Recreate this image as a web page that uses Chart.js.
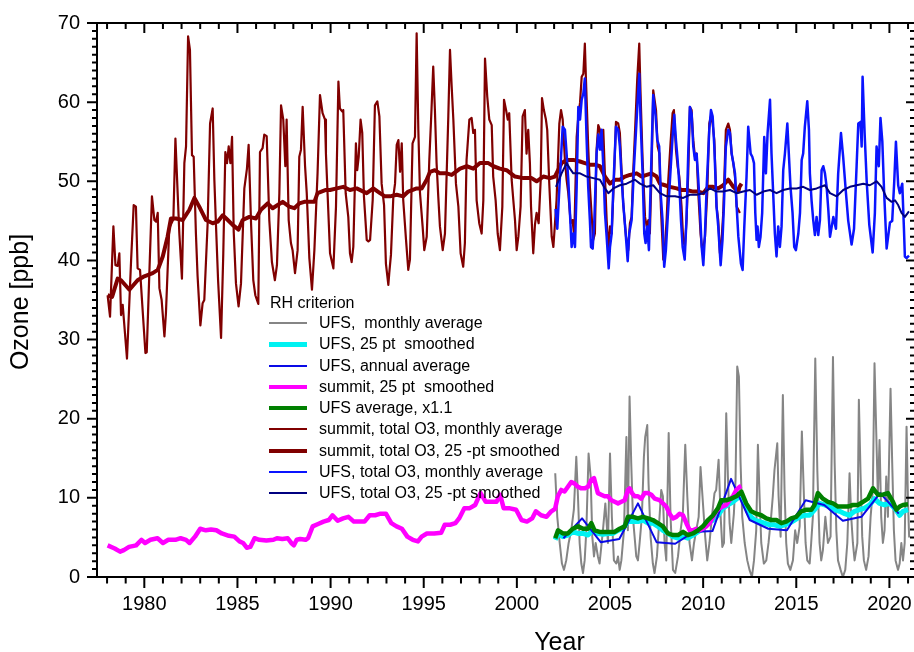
<!DOCTYPE html>
<html><head><meta charset="utf-8">
<script src="https://cdn.jsdelivr.net/npm/chart.js@4.4.1/dist/chart.umd.min.js"></script>
<style>
html,body{margin:0;padding:0;background:#fff;}
#wrap{position:relative;width:914px;height:652px;overflow:hidden;}
#legend{position:absolute;left:0;top:0;width:914px;height:652px;pointer-events:none;font-family:"Liberation Sans",Arial,sans-serif;font-size:16px;color:#000;}
.lg-text{position:absolute;height:20px;line-height:20px;white-space:pre;}
.lg-line{position:absolute;width:38px;}
</style></head><body>
<div id="wrap"><canvas id="c" width="914" height="652"></canvas><div id="legend"></div></div>
<script>
// ---------- DATA ----------
const xTitle = 'Year';
const yTitle = 'Ozone [ppb]';
const legendTitle = 'RH criterion';
const xTickYears = [1980,1985,1990,1995,2000,2005,2010,2015,2020];
const yTickValues = [0,10,20,30,40,50,60,70];
const seriesLabels = [
  'UFS,  monthly average',
  'UFS, 25 pt  smoothed',
  'UFS, annual average',
  'summit, 25 pt  smoothed',
  'UFS average, x1.1',
  'summit, total O3, monthly average',
  'summit, total O3, 25 -pt smoothed',
  'UFS, total O3, monthly average',
  'UFS, total O3, 25 -pt smoothed'
];

const ufsMonthly = [[2002.06,13.1],[2002.17,7.6],[2002.30,4.3],[2002.42,1.7],[2002.53,0.9],[2002.65,2.1],[2002.78,4.3],[2002.92,5.9],[2003.06,8.5],[2003.19,15.2],[2003.28,10.2],[2003.37,4.3],[2003.46,1.7],[2003.55,0.5],[2003.64,2.1],[2003.73,5.9],[2003.85,15.6],[2003.96,12.7],[2004.05,5.1],[2004.14,2.6],[2004.23,4.3],[2004.35,2.6],[2004.44,1.7],[2004.53,3.8],[2004.62,5.9],[2004.75,9.3],[2004.89,4.3],[2005.00,15.6],[2005.10,7.6],[2005.21,2.1],[2005.34,1.7],[2005.43,2.6],[2005.52,0.9],[2005.61,2.1],[2005.75,5.9],[2005.88,17.7],[2005.96,5.9],[2006.05,22.8],[2006.14,14.4],[2006.23,7.6],[2006.32,5.1],[2006.41,2.6],[2006.50,2.1],[2006.59,4.3],[2006.71,7.6],[2006.82,15.2],[2006.89,17.7],[2007.00,19.2],[2007.07,11.8],[2007.18,5.1],[2007.30,1.7],[2007.39,0.5],[2007.52,2.6],[2007.66,7.6],[2007.75,11.0],[2007.84,10.2],[2007.93,4.3],[2008.02,2.1],[2008.15,18.2],[2008.25,7.6],[2008.38,0.9],[2008.50,0.5],[2008.65,2.6],[2008.79,5.9],[2008.91,8.0],[2009.04,16.7],[2009.15,10.2],[2009.27,4.3],[2009.40,2.1],[2009.51,4.3],[2009.63,5.9],[2009.76,7.6],[2009.86,13.9],[2009.99,9.3],[2010.11,5.1],[2010.22,2.1],[2010.34,4.3],[2010.47,7.6],[2010.61,10.6],[2010.70,11.0],[2010.83,14.8],[2010.94,7.6],[2011.03,3.8],[2011.12,4.3],[2011.24,20.7],[2011.33,12.7],[2011.42,6.8],[2011.51,4.3],[2011.65,8.0],[2011.74,12.3],[2011.83,26.6],[2011.92,25.3],[2012.01,14.4],[2012.10,7.6],[2012.23,4.3],[2012.37,2.1],[2012.49,0.9],[2012.62,0.0],[2012.73,2.1],[2012.85,5.9],[2012.94,16.7],[2013.03,10.2],[2013.12,4.3],[2013.26,1.7],[2013.39,2.1],[2013.51,4.3],[2013.65,7.6],[2013.74,10.2],[2013.83,13.5],[2013.98,16.9],[2014.05,10.2],[2014.16,5.1],[2014.28,23.0],[2014.37,11.0],[2014.46,4.3],[2014.55,1.7],[2014.68,0.9],[2014.82,2.1],[2014.94,5.9],[2015.05,4.3],[2015.18,6.4],[2015.30,18.4],[2015.41,10.2],[2015.50,4.3],[2015.59,2.1],[2015.72,1.7],[2015.80,4.3],[2015.89,7.6],[2016.02,27.6],[2016.13,13.5],[2016.25,4.3],[2016.34,2.1],[2016.43,3.4],[2016.56,7.6],[2016.70,4.3],[2016.84,5.1],[2016.97,27.8],[2017.06,14.4],[2017.15,5.9],[2017.24,2.1],[2017.38,0.9],[2017.50,0.0],[2017.63,0.9],[2017.74,4.3],[2017.86,13.1],[2017.95,7.6],[2018.04,4.3],[2018.13,2.1],[2018.28,4.3],[2018.36,22.4],[2018.45,13.1],[2018.54,5.1],[2018.63,2.1],[2018.75,0.9],[2018.88,2.6],[2018.99,7.6],[2019.11,11.0],[2019.20,27.0],[2019.29,18.6],[2019.38,10.2],[2019.47,17.3],[2019.56,7.6],[2019.65,4.3],[2019.74,5.9],[2019.83,12.7],[2019.92,7.6],[2020.06,23.8],[2020.15,14.4],[2020.24,5.9],[2020.33,2.1],[2020.46,0.9],[2020.55,1.7],[2020.64,4.3],[2020.73,2.1],[2020.82,4.3],[2020.92,19.0],[2021.00,9.3],[2021.06,5.0]];

const ufsSmoothed = [[2002.06,4.7],[2002.21,5.5],[2002.47,5.1],[2002.74,5.3],[2003.01,5.7],[2003.28,5.5],[2003.55,5.5],[2003.82,5.3],[2004.08,5.9],[2004.35,5.5],[2004.62,5.4],[2004.89,5.5],[2005.16,5.5],[2005.43,5.9],[2005.69,6.1],[2005.96,7.0],[2006.23,7.0],[2006.50,7.0],[2006.77,7.2],[2007.04,6.8],[2007.30,6.8],[2007.57,6.4],[2007.84,5.9],[2008.11,5.5],[2008.38,5.1],[2008.65,4.9],[2008.92,5.1],[2009.18,4.9],[2009.45,5.3],[2009.72,5.7],[2009.99,6.1],[2010.26,6.8],[2010.53,7.2],[2010.80,7.8],[2011.06,8.7],[2011.33,9.1],[2011.60,9.5],[2011.87,10.0],[2012.05,10.2],[2012.23,9.3],[2012.49,7.8],[2012.76,7.2],[2013.03,7.0],[2013.30,6.8],[2013.57,6.6],[2013.84,6.6],[2014.10,6.4],[2014.37,6.6],[2014.64,6.8],[2014.91,7.2],[2015.18,7.6],[2015.45,7.8],[2015.71,7.8],[2015.98,8.5],[2016.25,9.3],[2016.52,9.1],[2016.79,8.9],[2017.06,8.5],[2017.33,8.3],[2017.60,8.0],[2017.86,7.8],[2018.13,8.3],[2018.40,8.5],[2018.67,8.7],[2018.94,9.1],[2019.20,9.9],[2019.47,9.3],[2019.74,9.1],[2020.01,9.3],[2020.28,8.7],[2020.55,7.8],[2020.73,8.3],[2021.00,8.5]];

const ufsAnnual = [[2002.5,4.9],[2003.5,7.4],[2004.5,4.4],[2005.5,4.8],[2006.5,9.3],[2007.5,4.4],[2008.5,4.2],[2009.5,5.7],[2010.5,5.8],[2011.5,12.4],[2012.5,7.2],[2013.5,6.1],[2014.5,5.9],[2015.5,9.7],[2016.5,9.1],[2017.5,7.1],[2018.5,7.6],[2019.5,10.6],[2020.5,8.0]];

const summitSmoothed = [[1978.03,4.0],[1978.41,3.6],[1978.70,3.2],[1978.90,3.4],[1979.18,3.8],[1979.56,4.0],[1979.85,4.7],[1980.04,4.3],[1980.33,4.7],[1980.71,4.9],[1981.00,4.3],[1981.29,4.7],[1981.67,4.7],[1981.95,4.9],[1982.24,4.7],[1982.43,4.3],[1982.72,5.1],[1983.00,6.1],[1983.30,5.9],[1983.58,6.0],[1983.87,5.9],[1984.16,5.5],[1984.54,5.2],[1984.83,5.1],[1985.11,4.5],[1985.30,4.3],[1985.50,3.7],[1985.69,3.8],[1985.92,4.9],[1986.17,4.7],[1986.55,4.6],[1986.93,4.7],[1987.12,4.9],[1987.41,4.8],[1987.70,4.9],[1987.89,4.3],[1988.03,4.0],[1988.18,4.7],[1988.37,4.8],[1988.66,4.7],[1988.79,4.9],[1989.04,6.4],[1989.33,6.7],[1989.62,7.0],[1989.90,7.2],[1990.10,7.8],[1990.38,7.1],[1990.67,7.4],[1990.96,7.6],[1991.25,7.0],[1991.53,7.0],[1991.82,7.0],[1992.10,7.8],[1992.39,7.8],[1992.68,8.0],[1992.97,8.0],[1993.26,6.8],[1993.54,6.4],[1993.83,6.1],[1994.12,5.1],[1994.41,4.7],[1994.69,4.5],[1994.89,5.1],[1995.17,5.5],[1995.56,5.5],[1995.94,5.6],[1996.13,6.6],[1996.42,6.6],[1996.70,6.8],[1996.90,7.4],[1997.18,8.7],[1997.47,8.7],[1997.76,9.1],[1998.05,10.6],[1998.33,9.5],[1998.62,9.5],[1998.91,9.5],[1999.10,10.4],[1999.29,8.7],[1999.58,8.7],[1999.96,8.5],[2000.25,7.2],[2000.54,7.0],[2000.82,7.4],[2001.02,8.3],[2001.30,7.8],[2001.59,7.6],[2001.85,8.3],[2002.05,8.6],[2002.20,10.2],[2002.38,11.0],[2002.56,10.8],[2002.74,11.4],[2002.92,12.0],[2003.10,11.8],[2003.28,11.4],[2003.46,11.2],[2003.64,11.2],[2003.82,11.4],[2004.00,12.3],[2004.14,12.5],[2004.26,11.4],[2004.35,10.6],[2004.53,10.4],[2004.71,10.2],[2004.89,10.2],[2005.07,9.7],[2005.25,9.5],[2005.43,9.3],[2005.61,9.5],[2005.79,9.7],[2005.96,11.0],[2006.05,11.2],[2006.18,10.6],[2006.32,10.2],[2006.50,10.2],[2006.68,9.9],[2006.86,10.6],[2007.04,10.6],[2007.22,10.4],[2007.40,9.9],[2007.66,9.7],[2007.84,9.3],[2008.02,8.9],[2008.20,8.0],[2008.38,7.4],[2008.56,7.6],[2008.74,8.0],[2008.92,7.8],[2009.10,6.8],[2009.28,5.9],[2009.46,5.9],[2009.63,6.1],[2009.81,5.9],[2009.99,6.1],[2010.17,6.4],[2010.35,6.8],[2010.53,7.6],[2010.70,8.3],[2010.88,8.7],[2011.06,8.9],[2011.24,9.1],[2011.42,9.7],[2011.60,10.2],[2011.78,11.0],[2011.96,11.4],[2012.05,11.5]];

const ufsAverage = [[2002.06,4.9],[2002.21,5.9],[2002.47,5.5],[2002.74,5.5],[2003.01,6.1],[2003.28,6.4],[2003.55,6.1],[2003.82,6.1],[2004.00,6.8],[2004.17,5.9],[2004.44,5.7],[2004.71,5.7],[2004.98,5.7],[2005.25,5.7],[2005.52,6.1],[2005.79,6.4],[2005.96,7.6],[2006.23,7.6],[2006.50,7.4],[2006.77,7.6],[2007.04,7.4],[2007.30,7.2],[2007.57,6.8],[2007.84,6.4],[2008.11,5.5],[2008.38,5.3],[2008.65,5.3],[2008.92,5.7],[2009.18,5.3],[2009.45,5.5],[2009.72,5.9],[2009.99,6.4],[2010.26,7.2],[2010.53,7.8],[2010.80,8.7],[2010.97,9.7],[2011.24,9.7],[2011.51,9.9],[2011.78,10.2],[2012.05,10.8],[2012.31,9.3],[2012.58,8.3],[2012.85,8.0],[2013.12,7.8],[2013.39,7.4],[2013.66,7.2],[2013.93,7.2],[2014.20,6.8],[2014.46,7.0],[2014.73,7.4],[2015.00,7.6],[2015.27,8.3],[2015.54,8.5],[2015.81,8.5],[2015.98,9.1],[2016.16,10.6],[2016.43,9.9],[2016.70,9.5],[2016.97,9.3],[2017.24,8.9],[2017.50,8.9],[2017.77,8.9],[2018.04,9.1],[2018.31,9.1],[2018.58,9.5],[2018.85,9.9],[2019.12,11.2],[2019.38,10.4],[2019.65,10.4],[2019.92,10.6],[2020.19,9.5],[2020.37,8.5],[2020.55,8.9],[2020.73,9.1],[2021.00,9.2]];

const summitTotalMonthly = [[1978.03,35.6],[1978.16,32.9],[1978.34,44.3],[1978.45,39.4],[1978.57,39.3],[1978.66,40.9],[1978.75,33.1],[1978.84,34.4],[1979.07,27.6],[1979.29,40.0],[1979.43,47.0],[1979.55,46.8],[1979.64,39.0],[1979.77,38.8],[1979.91,33.7],[1980.06,28.3],[1980.13,28.4],[1980.27,38.4],[1980.41,48.1],[1980.54,45.1],[1980.63,44.9],[1980.72,46.0],[1980.81,36.5],[1980.93,35.0],[1981.08,30.4],[1981.16,33.3],[1981.34,44.1],[1981.56,45.2],[1981.67,55.4],[1981.79,48.5],[1981.88,43.4],[1982.02,37.7],[1982.15,52.3],[1982.24,54.4],[1982.35,68.3],[1982.45,66.6],[1982.56,53.3],[1982.65,53.1],[1982.77,43.4],[1982.86,38.0],[1983.01,31.8],[1983.13,34.6],[1983.22,35.0],[1983.40,44.7],[1983.53,57.3],[1983.67,59.2],[1983.76,50.2],[1983.85,44.3],[1983.96,37.5],[1984.12,30.2],[1984.24,40.9],[1984.35,53.7],[1984.44,52.3],[1984.53,54.4],[1984.62,52.3],[1984.71,55.6],[1984.80,43.6],[1984.92,37.1],[1985.06,34.2],[1985.19,37.1],[1985.37,49.1],[1985.51,51.6],[1985.60,54.6],[1985.73,44.7],[1985.85,37.5],[1985.96,35.6],[1986.12,34.5],[1986.21,53.7],[1986.35,54.2],[1986.44,55.9],[1986.57,55.7],[1986.71,45.1],[1986.85,39.8],[1987.01,37.5],[1987.12,39.4],[1987.25,48.5],[1987.34,59.6],[1987.46,57.8],[1987.57,51.9],[1987.64,57.8],[1987.75,45.1],[1987.87,42.2],[1987.96,41.3],[1988.09,38.4],[1988.23,41.3],[1988.32,53.1],[1988.41,54.0],[1988.50,59.4],[1988.63,51.9],[1988.72,48.5],[1988.86,40.3],[1989.00,36.3],[1989.13,41.3],[1989.30,51.0],[1989.43,60.9],[1989.57,58.6],[1989.70,57.8],[1989.75,53.5],[1989.97,40.9],[1990.15,39.0],[1990.29,46.8],[1990.42,62.6],[1990.50,59.2],[1990.63,58.8],[1990.68,59.0],[1990.81,48.5],[1990.95,45.5],[1991.04,40.9],[1991.13,39.8],[1991.22,41.7],[1991.36,54.8],[1991.43,51.4],[1991.51,53.1],[1991.61,57.8],[1991.70,56.1],[1991.79,48.1],[1991.94,42.6],[1992.03,42.4],[1992.12,42.6],[1992.26,47.6],[1992.38,59.6],[1992.51,60.1],[1992.62,58.2],[1992.74,49.7],[1992.87,47.0],[1992.97,39.6],[1993.10,36.9],[1993.15,38.4],[1993.24,40.7],[1993.37,48.1],[1993.46,49.7],[1993.55,54.6],[1993.64,55.2],[1993.73,51.2],[1993.82,54.8],[1993.90,47.6],[1994.05,42.6],[1994.17,38.8],[1994.26,40.1],[1994.40,54.8],[1994.53,55.6],[1994.62,68.7],[1994.71,56.5],[1994.80,48.5],[1994.94,44.3],[1995.03,41.3],[1995.16,43.0],[1995.30,52.7],[1995.42,59.2],[1995.51,64.5],[1995.60,59.0],[1995.69,52.3],[1995.78,48.1],[1995.87,44.3],[1996.02,41.3],[1996.14,43.4],[1996.32,58.2],[1996.41,66.6],[1996.50,62.0],[1996.59,57.8],[1996.73,49.7],[1996.86,46.8],[1996.98,40.9],[1997.12,39.2],[1997.21,42.2],[1997.30,52.7],[1997.45,57.8],[1997.57,58.0],[1997.66,56.1],[1997.75,56.5],[1997.84,47.6],[1997.98,44.7],[1998.11,43.4],[1998.20,47.6],[1998.29,65.5],[1998.41,60.7],[1998.52,57.8],[1998.65,57.1],[1998.73,50.6],[1998.86,47.6],[1998.97,43.4],[1999.09,41.3],[1999.22,46.8],[1999.31,60.3],[1999.42,59.0],[1999.51,57.8],[1999.59,58.6],[1999.72,50.2],[1999.81,47.6],[1999.90,45.1],[1999.99,41.3],[2000.08,43.0],[2000.20,46.8],[2000.31,58.2],[2000.43,59.0],[2000.52,53.5],[2000.61,56.5],[2000.70,52.3],[2000.76,46.8],[2000.88,40.9],[2000.97,44.5],[2001.06,46.0],[2001.17,44.7],[2001.28,50.2],[2001.35,60.5],[2001.45,59.0],[2001.56,57.8],[2001.63,56.5],[2001.74,49.7],[2001.87,43.0],[2001.96,41.7],[2002.13,47.6],[2002.28,57.3],[2002.37,59.0],[2002.46,57.8],[2002.58,52.7],[2002.67,50.2],[2002.76,48.5],[2002.89,44.7],[2002.99,45.1],[2003.08,43.0],[2003.21,55.6],[2003.30,58.2],[2003.39,59.9],[2003.48,63.2],[2003.57,63.6],[2003.65,67.4],[2003.71,62.8],[2003.83,54.4],[2003.92,49.3],[2004.03,45.1],[2004.10,42.6],[2004.19,43.4],[2004.28,54.0],[2004.37,57.1],[2004.46,56.5],[2004.55,54.0],[2004.64,56.5],[2004.73,50.6],[2004.82,45.1],[2004.91,41.3],[2005.00,44.3],[2005.09,43.4],[2005.21,50.2],[2005.32,57.5],[2005.44,57.3],[2005.53,56.1],[2005.62,51.4],[2005.71,47.2],[2005.86,43.0],[2005.98,41.3],[2006.07,44.7],[2006.16,45.5],[2006.25,51.4],[2006.34,56.1],[2006.46,62.8],[2006.57,67.4],[2006.64,61.1],[2006.75,52.7],[2006.88,45.5],[2006.97,44.3],[2007.06,45.1],[2007.14,43.4],[2007.23,51.0],[2007.32,61.5],[2007.47,59.0],[2007.56,54.4],[2007.65,53.5],[2007.73,46.8],[2007.86,40.1],[2007.95,41.7],[2008.04,45.1],[2008.13,50.2],[2008.25,54.8],[2008.36,58.6],[2008.43,59.0],[2008.54,54.0],[2008.63,51.9],[2008.72,50.6],[2008.84,46.8],[2008.93,42.6],[2009.02,41.7],[2009.11,45.1],[2009.20,51.0],[2009.29,59.4],[2009.38,59.0],[2009.47,55.2],[2009.56,53.1],[2009.65,53.5],[2009.74,48.5],[2009.86,43.4],[2009.97,40.9],[2010.10,43.0],[2010.22,48.5],[2010.33,57.3],[2010.42,58.2],[2010.51,57.3],[2010.60,55.2],[2010.72,46.8],[2010.81,45.1],[2010.90,40.9],[2010.99,42.6],[2011.08,46.0],[2011.22,56.5],[2011.35,57.3],[2011.44,56.5],[2011.53,53.5],[2011.62,52.3],[2011.71,50.6],[2011.80,46.8],[2011.89,46.4],[2011.97,46.0]];

const summitTotalSmoothed = [[1978.03,35.6],[1978.27,35.4],[1978.57,37.7],[1978.75,37.5],[1979.20,36.3],[1979.64,37.5],[1980.00,38.0],[1980.45,38.4],[1980.72,38.8],[1980.99,40.5],[1981.25,43.0],[1981.43,45.3],[1981.70,45.3],[1982.06,45.1],[1982.42,46.4],[1982.69,47.9],[1982.95,46.8],[1983.31,45.1],[1983.67,44.7],[1983.94,44.9],[1984.21,45.7],[1984.48,45.1],[1984.74,44.5],[1985.06,43.9],[1985.28,45.1],[1985.64,45.5],[1985.99,45.3],[1986.26,46.4],[1986.62,47.2],[1986.89,46.6],[1987.16,47.0],[1987.43,47.4],[1987.78,46.8],[1988.05,46.6],[1988.32,47.2],[1988.59,47.4],[1989.13,47.4],[1989.30,48.5],[1989.75,48.9],[1989.97,48.9],[1990.33,49.1],[1990.68,49.3],[1991.04,48.9],[1991.40,49.1],[1991.76,48.7],[1991.94,48.5],[1992.29,49.1],[1992.65,48.5],[1992.92,48.1],[1993.19,48.1],[1993.55,48.3],[1993.90,48.1],[1994.17,48.7],[1994.62,49.1],[1994.89,49.1],[1995.16,50.2],[1995.34,51.2],[1995.60,51.4],[1995.87,51.0],[1996.23,51.0],[1996.50,50.8],[1996.95,51.6],[1997.31,51.9],[1997.66,51.6],[1998.02,52.3],[1998.47,52.3],[1998.74,51.9],[1999.09,51.6],[1999.45,51.4],[1999.90,50.6],[2000.35,50.4],[2000.79,50.4],[2001.06,50.0],[2001.42,50.6],[2001.78,50.4],[2002.04,50.6],[2002.40,52.3],[2002.67,52.7],[2003.03,52.7],[2003.39,52.5],[2003.65,52.3],[2003.92,52.1],[2004.19,52.1],[2004.46,51.9],[2004.73,50.6],[2005.00,49.7],[2005.27,50.2],[2005.53,50.2],[2005.80,50.6],[2006.07,50.8],[2006.43,51.0],[2006.70,50.6],[2006.97,50.8],[2007.23,51.0],[2007.50,50.6],[2007.68,49.7],[2007.95,49.5],[2008.22,49.3],[2008.58,49.1],[2008.84,48.9],[2009.11,48.9],[2009.47,48.7],[2009.74,48.7],[2010.01,48.5],[2010.28,49.3],[2010.54,49.3],[2010.81,49.1],[2011.08,49.5],[2011.35,50.2],[2011.62,49.3],[2011.80,48.9],[2011.89,48.7],[2011.95,49.3],[2012.06,49.7]];

const ufsTotalMonthly = [[2002.08,46.5],[2002.17,44.0],[2002.30,50.0],[2002.46,56.9],[2002.58,56.5],[2002.67,53.5],[2002.76,50.2],[2002.85,46.0],[2002.94,41.7],[2003.03,43.4],[2003.12,41.7],[2003.21,49.3],[2003.30,59.4],[2003.39,57.8],[2003.48,60.3],[2003.57,61.1],[2003.65,63.0],[2003.74,55.6],[2003.83,49.3],[2003.92,45.1],[2003.98,41.7],[2004.07,41.5],[2004.16,45.1],[2004.28,53.5],[2004.37,55.9],[2004.46,54.0],[2004.55,56.5],[2004.64,51.9],[2004.73,46.0],[2004.82,43.0],[2004.93,39.0],[2005.00,41.7],[2005.09,43.4],[2005.18,49.3],[2005.32,56.9],[2005.44,56.5],[2005.53,54.4],[2005.62,50.6],[2005.71,47.2],[2005.84,43.4],[2005.95,39.9],[2006.03,43.4],[2006.16,45.1],[2006.29,51.9],[2006.39,56.1],[2006.48,59.9],[2006.57,63.6],[2006.64,57.8],[2006.75,51.0],[2006.84,43.4],[2006.91,42.2],[2007.00,44.3],[2007.09,41.3],[2007.18,49.3],[2007.32,60.9],[2007.45,58.2],[2007.54,55.2],[2007.64,54.4],[2007.73,48.1],[2007.82,45.1],[2007.91,39.2],[2008.00,41.3],[2008.09,45.1],[2008.22,50.2],[2008.36,55.6],[2008.45,58.4],[2008.54,55.2],[2008.63,52.7],[2008.72,49.7],[2008.81,45.1],[2008.90,41.7],[2009.01,40.1],[2009.11,45.5],[2009.20,53.5],[2009.29,59.4],[2009.38,58.6],[2009.47,54.4],[2009.56,52.7],[2009.65,53.5],[2009.74,50.2],[2009.83,46.4],[2009.92,41.7],[2010.01,39.4],[2010.10,43.4],[2010.19,49.3],[2010.33,56.5],[2010.42,59.0],[2010.51,58.2],[2010.60,54.4],[2010.72,46.8],[2010.81,44.3],[2010.94,39.4],[2011.04,42.6],[2011.12,47.2],[2011.22,54.4],[2011.35,56.5],[2011.44,56.1],[2011.53,53.5],[2011.62,52.3],[2011.71,51.0],[2011.80,46.8],[2011.89,43.0],[2012.03,39.6],[2012.12,38.8],[2012.21,44.3],[2012.33,50.6],[2012.42,56.9],[2012.55,53.5],[2012.64,53.1],[2012.73,52.3],[2012.80,46.0],[2012.87,42.6],[2012.92,44.3],[2012.99,41.7],[2013.08,43.0],[2013.17,46.0],[2013.28,55.6],[2013.37,51.0],[2013.46,56.1],[2013.59,60.3],[2013.67,53.5],[2013.76,48.5],[2013.85,43.4],[2013.94,40.5],[2014.03,44.3],[2014.12,41.7],[2014.21,44.3],[2014.30,51.4],[2014.39,53.5],[2014.52,57.3],[2014.60,53.5],[2014.69,49.3],[2014.80,46.0],[2014.89,41.7],[2014.98,41.3],[2015.11,43.4],[2015.20,46.0],[2015.29,52.7],[2015.37,53.5],[2015.46,56.9],[2015.59,60.1],[2015.68,56.5],[2015.73,51.0],[2015.82,47.6],[2015.91,45.1],[2016.00,43.2],[2016.09,45.5],[2016.18,43.2],[2016.27,45.1],[2016.36,51.4],[2016.45,51.9],[2016.54,51.0],[2016.63,49.3],[2016.72,46.4],[2016.81,43.0],[2016.99,45.5],[2017.13,44.0],[2017.25,51.0],[2017.40,56.1],[2017.52,53.0],[2017.65,49.0],[2017.79,45.0],[2017.97,42.0],[2018.10,44.0],[2018.24,52.0],[2018.33,57.3],[2018.45,57.5],[2018.51,54.4],[2018.56,63.2],[2018.67,56.0],[2018.78,50.0],[2018.92,44.5],[2019.10,41.0],[2019.22,46.0],[2019.31,54.4],[2019.43,51.9],[2019.52,58.0],[2019.62,55.0],[2019.71,49.0],[2019.85,41.5],[2020.03,44.8],[2020.15,45.0],[2020.26,50.0],[2020.35,55.0],[2020.47,49.5],[2020.56,48.5],[2020.69,49.7],[2020.78,44.0],[2020.83,40.5],[2020.92,40.3],[2021.05,40.6]];

const ufsTotalSmoothed = [[2002.10,49.3],[2002.40,51.0],[2002.67,52.3],[2002.85,51.6],[2003.03,51.0],[2003.39,51.0],[2003.74,50.6],[2004.10,50.4],[2004.46,50.2],[2004.73,49.1],[2004.91,48.5],[2005.18,49.1],[2005.53,49.5],[2005.89,49.7],[2006.34,50.2],[2006.61,49.7],[2006.97,49.3],[2007.32,49.5],[2007.68,48.5],[2008.04,48.1],[2008.49,48.1],[2008.93,47.9],[2009.29,48.3],[2009.65,48.3],[2010.01,48.5],[2010.37,49.1],[2010.72,48.7],[2011.08,48.7],[2011.44,48.9],[2011.80,48.5],[2012.15,48.7],[2012.51,48.9],[2012.87,48.3],[2013.23,48.7],[2013.59,48.9],[2013.94,48.5],[2014.30,48.9],[2014.66,49.1],[2015.02,49.1],[2015.37,49.3],[2015.73,48.9],[2016.09,49.1],[2016.54,49.5],[2016.81,48.5],[2017.17,48.1],[2017.52,48.9],[2017.88,49.3],[2018.24,49.5],[2018.60,49.7],[2018.95,49.5],[2019.31,50.0],[2019.58,49.3],[2019.85,47.9],[2020.12,47.4],[2020.30,47.6],[2020.47,47.0],[2020.65,46.0],[2020.83,45.5],[2021.05,46.2]];

// ---------- STYLES ----------
const seriesData = [ufsMonthly, ufsSmoothed, ufsAnnual, summitSmoothed, ufsAverage, summitTotalMonthly, summitTotalSmoothed, ufsTotalMonthly, ufsTotalSmoothed];
const seriesColors = ['#858585', '#00F2F2', '#0A0AE6', '#FF00FF', '#008000', '#800000', '#800000', '#0A14FF', '#000080'];
const seriesWidths = [2, 5, 2, 4.5, 4.5, 2.2, 4, 2.5, 2];

Chart.defaults.font.family = '"Liberation Sans", Arial, sans-serif';
Chart.defaults.color = '#000';

const datasets = seriesData.map((arr, i) => ({
  label: seriesLabels[i],
  data: arr.map(p => ({x: p[0], y: p[1]})),
  borderColor: seriesColors[i],
  backgroundColor: seriesColors[i],
  borderWidth: seriesWidths[i],
  pointRadius: 0,
  tension: 0,
  fill: false,
  borderJoinStyle: 'round',
  order: seriesData.length - i
}));

const framePlugin = {
  id: 'frame',
  afterDraw(chart) {
    const {ctx, chartArea: a, scales: {x, y}} = chart;
    ctx.save();
    ctx.strokeStyle = '#000';
    ctx.lineWidth = 2;
    ctx.beginPath();
    ctx.moveTo(a.left, a.top); ctx.lineTo(a.right, a.top);
    ctx.moveTo(a.left, a.top - 1); ctx.lineTo(a.left, a.bottom + 1);
    ctx.moveTo(a.left - 1, a.bottom); ctx.lineTo(a.right, a.bottom);
    for (let yr = Math.ceil(x.min); yr <= Math.floor(x.max); yr++) {
      const px = x.getPixelForValue(yr);
      const major = yr % 5 === 0;
      ctx.moveTo(px, a.bottom); ctx.lineTo(px, a.bottom + (major ? 11 : 6.5));
      ctx.moveTo(px, a.top); ctx.lineTo(px, a.top + (major ? 10 : 6));
    }
    for (let v = Math.ceil(y.min); v <= Math.floor(y.max); v++) {
      const py = y.getPixelForValue(v);
      const major = v % 10 === 0;
      ctx.moveTo(a.left, py); ctx.lineTo(a.left - (major ? 10 : 5), py);
      ctx.moveTo(a.right, py); ctx.lineTo(a.right - (major ? 8 : 4), py);
    }
    ctx.stroke();
    ctx.fillStyle = '#000';
    ctx.font = '25px "Liberation Sans", Arial, sans-serif';
    ctx.textAlign = 'center';
    ctx.textBaseline = 'alphabetic';
    ctx.fillText(xTitle, 559.5, 650);
    ctx.translate(28, (a.top + a.bottom) / 2 + 2);
    ctx.rotate(-Math.PI / 2);
    ctx.fillText(yTitle, 0, 0);
    ctx.restore();
  }
};

const chart = new Chart(document.getElementById('c'), {
  type: 'line',
  data: {datasets},
  options: {
    responsive: false,
    animation: false,
    layout: {padding: {top: 23, right: 0, left: 0, bottom: 0}},
    plugins: {legend: {display: false}, tooltip: {enabled: false}},
    scales: {
      x: {
        type: 'linear',
        min: 1977.46,
        max: 2021.32,
        afterBuildTicks: s => { s.ticks = xTickYears.map(v => ({value: v})); },
        afterFit: s => { s.height = 75; s.paddingLeft = 0; s.paddingRight = 0; },
        ticks: {callback: v => String(v), font: {size: 20}, color: '#000', padding: 15, maxRotation: 0, autoSkip: false, includeBounds: false},
        grid: {display: false, drawTicks: false},
        border: {display: false}
      },
      y: {
        type: 'linear',
        min: 0,
        max: 70,
        afterBuildTicks: s => { s.ticks = yTickValues.map(v => ({value: v})); },
        afterFit: s => { s.width = 97; s.paddingTop = 0; s.paddingBottom = 0; },
        ticks: {callback: v => String(v), font: {size: 20}, color: '#000', padding: 17, autoSkip: false, includeBounds: false},
        grid: {display: false, drawTicks: false},
        border: {display: false}
      }
    }
  },
  plugins: [framePlugin]
});

// ---------- HTML legend built from the chart's datasets ----------
(function buildLegend() {
  const lg = document.getElementById('legend');
  const t = document.createElement('div');
  t.className = 'lg-text';
  t.style.left = '270px';
  t.style.top = (303.3 - 10) + 'px';
  t.textContent = legendTitle;
  lg.appendChild(t);
  chart.data.datasets.forEach((ds, i) => {
    const cy = 323 + i * 21.25;
    const ln = document.createElement('div');
    ln.className = 'lg-line';
    ln.style.left = '269px';
    ln.style.top = (cy - ds.borderWidth / 2) + 'px';
    ln.style.height = ds.borderWidth + 'px';
    ln.style.background = ds.borderColor;
    lg.appendChild(ln);
    const tx = document.createElement('div');
    tx.className = 'lg-text';
    tx.style.left = '319px';
    tx.style.top = (cy - 10) + 'px';
    tx.textContent = ds.label;
    lg.appendChild(tx);
  });
})();
</script></body></html>
